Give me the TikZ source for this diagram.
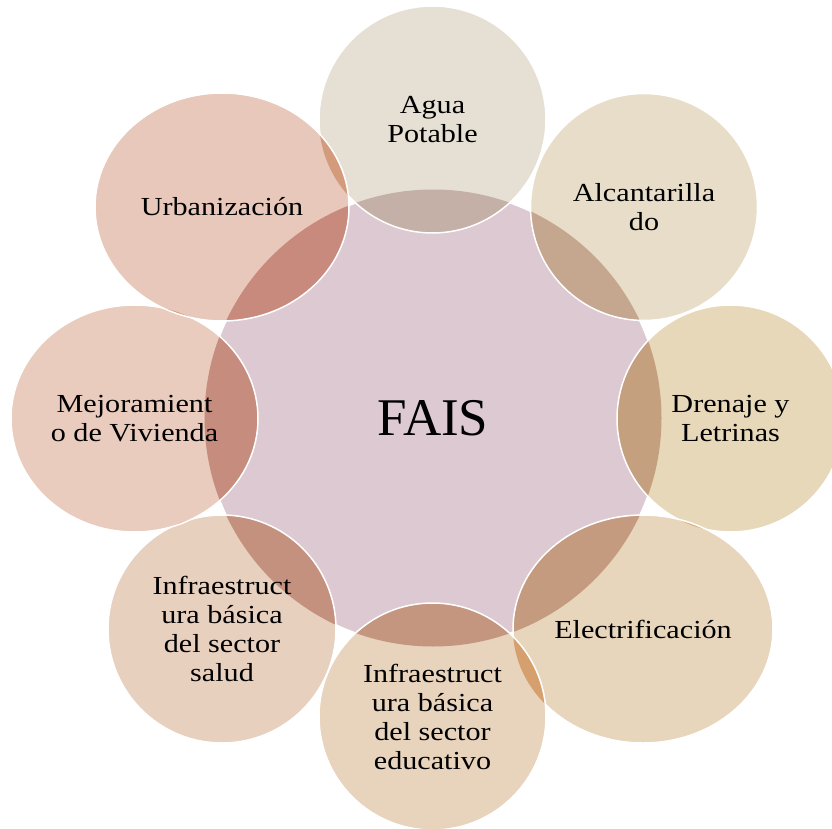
\documentclass[tikz,border=0pt]{standalone}
\usepackage{fontspec}
\setmainfont{Liberation Serif}
\newfontfamily\petalfamily[FakeStretch=1.16]{Liberation Serif}
\usetikzlibrary{shapes.geometric}

\definecolor{faisfill}{HTML}{DCC9D2}
\definecolor{aguafill}{HTML}{E6E0D4}
\definecolor{alcfill}{HTML}{E8DDC8}
\definecolor{drenfill}{HTML}{E8D8BA}
\definecolor{elecfill}{HTML}{E7D5BC}
\definecolor{educfill}{HTML}{E8D3BD}
\definecolor{saludfill}{HTML}{E8D0BF}
\definecolor{mejorfill}{HTML}{E9CCBD}
\definecolor{urbfill}{HTML}{E8C8BA}
\definecolor{aguaov}{HTML}{C4B0A6}
\definecolor{alcov}{HTML}{C5A68E}
\definecolor{drenov}{HTML}{C4A07F}
\definecolor{elecov}{HTML}{C59B80}
\definecolor{educov}{HTML}{C4967F}
\definecolor{saludov}{HTML}{C5917F}
\definecolor{mejorov}{HTML}{C68C7D}
\definecolor{urbov}{HTML}{C78A7D}
\definecolor{sliverA}{HTML}{D49A7C}
\definecolor{sliverB}{HTML}{DCA878}
\definecolor{sliverC}{HTML}{D6A06E}
\definecolor{sliverD}{HTML}{D8977C}

\tikzset{
  petal/.style={ellipse, draw=white, line width=1.5pt, inner sep=0pt, align=center,
    font=\petalfamily\fontsize{26}{29}\selectfont},
  overlap/.style={path picture={\fill[#1] (fais.center) circle[radius=228.5pt];}}
}

\begin{document}
\begin{tikzpicture}[x=1pt,y=-1pt]
  \path[use as bounding box, clip] (0,0) rectangle (832,829);

  % Center
  \node[circle, fill=faisfill, draw=white, line width=1.5pt, minimum size=457pt, inner sep=0pt,
        font=\fontsize{53}{60}\selectfont] (fais) at (433,418) {FAIS};

  % Outer circles, clockwise from top
  \node[petal, fill=aguafill, overlap=aguaov, minimum width=227pt, minimum height=227pt]
    (agua) at (432.5,119.5) {Agua\\Potable};
  \node[petal, fill=alcfill, overlap=alcov, minimum width=227pt, minimum height=227pt]
    (alc) at (644,207) {Alcantarilla\\do};
  \node[petal, fill=drenfill, overlap=drenov, minimum width=227pt, minimum height=227pt]
    (dren) at (730.5,418.5) {Drenaje y\\Letrinas};
  \node[petal, fill=elecfill, minimum width=260pt, minimum height=228pt,
        path picture={
          \fill[sliverB] (dren.center) circle[radius=113.5pt];
          \fill[elecov] (fais.center) circle[radius=228.5pt];}]
    (elec) at (643,629) {Electrificación};
  \node[petal, fill=educfill, minimum width=227pt, minimum height=227pt,
        path picture={
          \fill[sliverC] (elec.center) ellipse[x radius=130pt, y radius=114pt];
          \fill[educov] (fais.center) circle[radius=228.5pt];}]
    (educ) at (432.5,716.5) {Infraestruct\\ura básica\\del sector\\educativo};
  \node[petal, fill=saludfill, overlap=saludov, minimum width=228pt, minimum height=228pt]
    (salud) at (222,629) {Infraestruct\\ura básica\\del sector\\salud};
  \node[petal, fill=mejorfill, minimum width=247pt, minimum height=227pt,
        path picture={
          \fill[sliverD] (salud.center) circle[radius=114pt];
          \fill[mejorov] (fais.center) circle[radius=228.5pt];}]
    (mejor) at (134.5,418.5) {Mejoramient\\o de Vivienda};
  \node[petal, fill=urbfill, minimum width=254pt, minimum height=228pt,
        path picture={
          \fill[sliverA] (agua.center) circle[radius=113.5pt];
          \fill[sliverD] (mejor.center) ellipse[x radius=123.5pt, y radius=113.5pt];
          \fill[urbov] (fais.center) circle[radius=228.5pt];}]
    (urb) at (222,207) {Urbanización};
\end{tikzpicture}
\end{document}
